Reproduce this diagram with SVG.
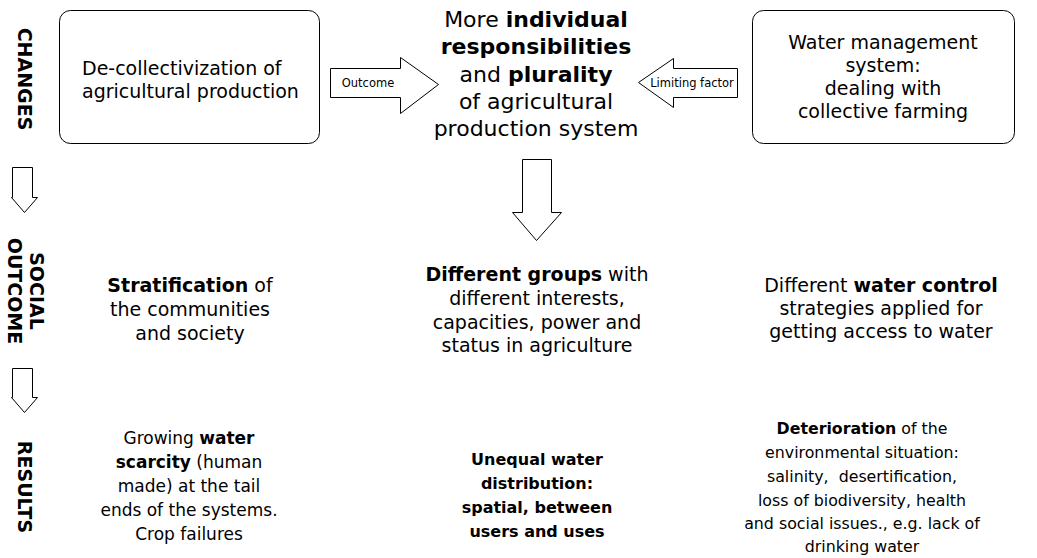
<svg xmlns="http://www.w3.org/2000/svg" width="1037" height="558" viewBox="0 0 1037 558">
<style>
text{font-family:"DejaVu Sans",Verdana,sans-serif;fill:#000;text-anchor:middle}
.b{font-weight:bold}
.lab{font-weight:bold;font-size:19px;dominant-baseline:central}
.box{fill:#fff;stroke:#000;stroke-width:1}
.arr{fill:#fff;stroke:#000;stroke-width:1;stroke-linejoin:miter}
.t22{font-size:22px}
.t19{font-size:19px}
.t17{font-size:17px}
.t16{font-size:16px}
.t15{font-size:15.8px}
.t11{font-size:11.5px}
.left{text-anchor:start}
</style>
<rect width="1037" height="558" fill="#fff"/>
<g id="label-changes"><text class="lab" transform="translate(25,79) rotate(90)">CHANGES</text></g>
<g id="label-social"><text class="lab" transform="translate(26,291) rotate(90)"><tspan x="0" y="-11">SOCIAL</tspan><tspan x="0" y="11">OUTCOME</tspan></text></g>
<g id="label-results"><text class="lab" transform="translate(25,487) rotate(90)">RESULTS</text></g>
<g id="connectors">
<path class="arr" d="M12.5,167.5 H32.5 V197.5 H37.5 L24.5,212.5 L11.5,197.5 H12.5 Z"/>
<path class="arr" d="M12.5,368.5 H32.5 V397.5 H37.5 L24.5,412.5 L11.5,397.5 H12.5 Z"/>
<path class="arr" d="M522.5,159.5 H551.5 V212.5 H561.5 L536.5,240.5 L512.5,212.5 H522.5 Z"/>
<g id="arrow-outcome"><path class="arr" d="M330.5,68.5 H400.5 V57.5 L438.5,84.5 L400.5,113.5 V97.5 H330.5 Z"/><text class="t11" x="368" y="87">Outcome</text></g>
<g id="arrow-limiting"><path class="arr" d="M737.5,68.5 H673.5 V58.5 L638.5,82.5 L673.5,107.5 V97.5 H737.5 Z"/><text class="t11" x="692" y="87">Limiting factor</text></g>
</g>
<g id="node-decollectivization"><rect class="box" x="59.5" y="10.5" width="260" height="133" rx="11"/><text class="t19 left" x="82" y="75">De-collectivization of</text><text class="t19 left" x="82" y="98">agricultural production</text></g>
<g id="node-water-management"><rect class="box" x="752.5" y="10.5" width="262" height="133" rx="11"/><text class="t19" x="883" y="49">Water management</text><text class="t19" x="883" y="72">system:</text><text class="t19" x="883" y="95">dealing with</text><text class="t19" x="883" y="118">collective farming</text></g>
<g id="node-central" class="t22"><text x="536" y="27">More <tspan class="b">individual</tspan></text><text class="b" x="536" y="54">responsibilities</text><text x="536" y="82">and <tspan class="b">plurality</tspan></text><text x="536" y="109">of agricultural</text><text x="536" y="136">production system</text></g>
<g id="node-stratification" class="t19"><text x="190" y="292"><tspan class="b">Stratification</tspan> of</text><text x="190" y="316">the communities</text><text x="190" y="340">and society</text></g>
<g id="node-groups" class="t19"><text x="537" y="281"><tspan class="b">Different groups</tspan> with</text><text x="537" y="305">different interests,</text><text x="537" y="329">capacities, power and</text><text x="537" y="352">status in agriculture</text></g>
<g id="node-water-control" class="t19"><text x="881" y="292">Different <tspan class="b">water control</tspan></text><text x="881" y="315">strategies applied for</text><text x="881" y="338">getting access to water</text></g>
<g id="node-scarcity" class="t17"><text x="189" y="444">Growing <tspan class="b">water</tspan></text><text x="189" y="468"><tspan class="b">scarcity</tspan> (human</text><text x="189" y="492">made) at the tail</text><text x="189" y="516">ends of the systems.</text><text x="189" y="540">Crop failures</text></g>
<g id="node-unequal" class="t16 b"><text x="537" y="465">Unequal water</text><text x="537" y="489">distribution:</text><text x="537" y="513">spatial, between</text><text x="537" y="537">users and uses</text></g>
<g id="node-deterioration" class="t15"><text x="862" y="434"><tspan class="b">Deterioration</tspan> of the</text><text x="862" y="458">environmental situation:</text><text x="862" y="482" xml:space="preserve">salinity,  desertification,</text><text x="862" y="506">loss of biodiversity, health</text><text x="862" y="529">and social issues., e.g. lack of</text><text x="862" y="552">drinking water</text></g>
</svg>
